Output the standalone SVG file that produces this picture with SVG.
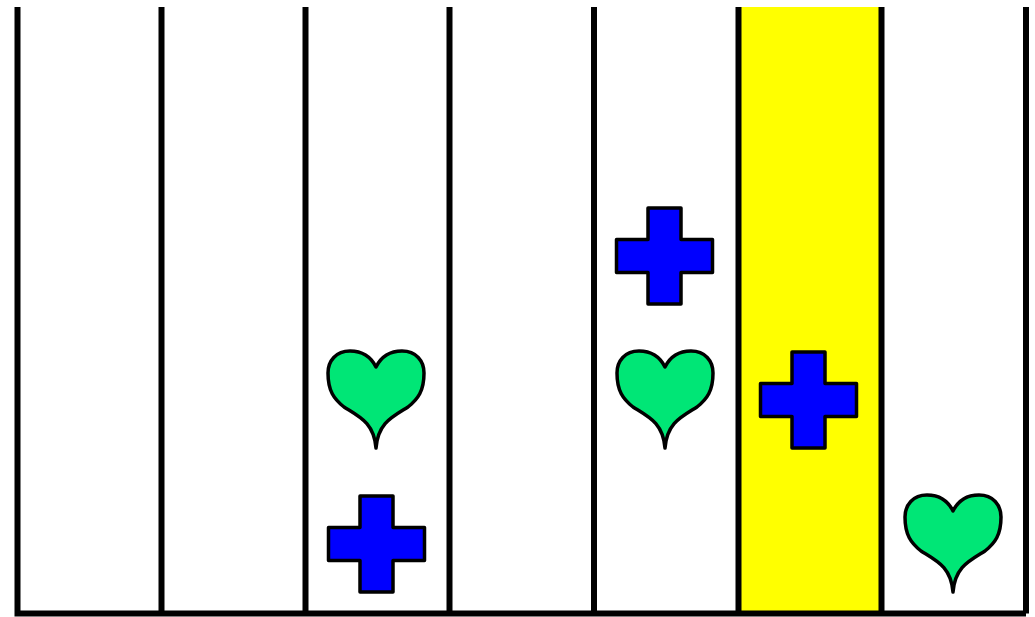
<svg xmlns="http://www.w3.org/2000/svg" width="1035" height="617" viewBox="0 0 1035 617">
<style>
.ln{stroke:#000;stroke-width:6;fill:none}
.heart{fill:#00e676;stroke:#000;stroke-width:3.5;stroke-linejoin:round}
.cross{fill:#0000ff;stroke:#000;stroke-width:3.5;stroke-linejoin:round}
</style>
<defs>
<path id="h" d="M0,16 C-6,4 -16,0 -26,0 C-40,0 -48,10 -48,22 C-48,40 -42,48 -32,56 C-16,66 -2,72 0,97 C2,72 16,66 32,56 C42,48 48,40 48,22 C48,10 40,0 26,0 C16,0 6,4 0,16 Z"/>
<path id="c" d="M-16.5,-48 H16.5 V-16.5 H48 V16.5 H16.5 V48 H-16.5 V16.5 H-48 V-16.5 H-16.5 Z"/>
</defs>
<rect width="1035" height="617" fill="#fff"/>
<rect id="highlight" x="738" y="7" width="144" height="606" fill="#ffff00"/>
<g id="grid">
<path class="ln" d="M17.5,7 V613.5 H1026 M1026,7 V613.5 M161.5,7 V613.5 M305.5,7 V613.5 M449.5,7 V613.5 M594,7 V613.5 M738.5,7 V613.5 M881.5,7 V613.5"/>
</g>
<g id="heart1" class="heart"><use href="#h" x="376" y="351"/></g>
<g id="cross1" class="cross"><use href="#c" x="376.5" y="544"/></g>
<g id="cross2" class="cross"><use href="#c" x="664.5" y="256"/></g>
<g id="heart2" class="heart"><use href="#h" x="665" y="351"/></g>
<g id="cross3" class="cross"><use href="#c" x="808.5" y="400"/></g>
<g id="heart3" class="heart"><use href="#h" x="953" y="495"/></g>
</svg>
